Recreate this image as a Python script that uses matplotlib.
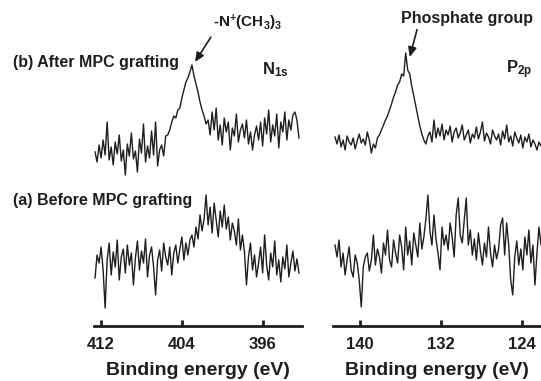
import matplotlib
matplotlib.use("Agg")
import matplotlib.pyplot as plt
import numpy as np

plt.rcParams["font.family"] = ["Liberation Sans", "DejaVu Sans"]
plt.rcParams["font.weight"] = "bold"
plt.rcParams["mathtext.fontset"] = "custom"
plt.rcParams["mathtext.rm"] = "Liberation Sans:bold"
plt.rcParams["mathtext.it"] = "Liberation Sans:bold"
plt.rcParams["mathtext.bf"] = "Liberation Sans:bold"

# N 1s, after MPC grafting (b), arbitrary units
n1s_after = [
    28, 18, 35, 22, 40, 25, 58, 20, 33, 15, 38, 26, 45, 19, 30, 5, 36, 24, 47, 21,
    29, 8, 41, 27, 56, 18, 34, 22, 49, 25, 58, 14, 30, 35, 24, 44,
    45, 50, 58, 64, 62, 70, 72, 82, 90, 98, 102, 108, 115,
    104, 96, 88, 78, 70, 64, 56,
    60, 45, 68, 50, 72, 40, 55, 35, 62, 48, 58, 30, 52, 44, 66, 38, 50, 56, 42, 60,
    36, 48, 30, 45, 54, 40, 58, 34, 62, 46, 70, 38, 55, 44, 66, 32, 58, 48, 68, 40,
    60, 50, 65, 68, 60, 42,
]
# N 1s, before MPC grafting (a)
n1s_before = [
    37, 60, 52, 68, 45, 7, 55, 72, 40, 63, 48, 75, 35, 58, 66, 42, 70, 50, 62, 30,
    57, 74, 45, 64, 52, 76, 38, 60, 68, 48, 20, 55, 65, 44, 72, 58, 50, 68, 40, 62,
    70, 52, 66, 78, 55, 72, 60, 75,
    80, 68, 88, 76, 100, 84, 96, 120, 90, 108, 82, 112, 95, 78, 104, 88, 110, 86, 98, 75,
    92, 84, 70, 96, 65, 80,
    63, 30, 58, 72, 45, 60, 38, 52, 68, 42, 80, 50, 35, 62, 48, 74, 40, 55, 33, 58,
    46, 70, 38, 52, 64, 44, 56, 42,
]
# P 2p, after MPC grafting (b)
p2p_after = [
    43, 36, 45, 33, 40, 30, 44, 38, 35, 42, 31, 39, 46, 37, 41, 35, 48,
    40, 27, 36, 32, 42, 45,
    50, 55, 60, 64, 70, 76, 83, 88, 95, 98, 106, 104, 127, 110, 106, 94, 84, 74, 64, 54,
    46, 40, 36, 44, 48, 38, 60, 42,
    52, 44, 56, 40, 50, 45, 54, 38, 48, 52, 42, 47, 55, 40, 45, 50, 37, 46, 42, 53,
    41, 48, 58, 39, 47, 43, 36, 50, 44, 40, 46, 35, 49, 41, 55, 38, 44, 34, 48, 42,
    37, 45, 32, 43, 38, 46, 33, 40, 36, 30, 38, 34,
]
# P 2p, before MPC grafting (a)
p2p_before = [
    70, 58, 75, 48, 62, 40, 55, 68, 45, 38, 60, 52, 35, 8, 48, 58, 62, 44, 55, 80,
    50, 66, 58, 42, 72, 60, 85, 55, 48, 75, 62,
    52, 80, 68, 45, 88, 60, 74, 50, 82, 70, 58, 92, 66, 78, 96, 120, 84, 70, 100,
    76, 62, 45, 88, 70, 80,
    65, 92, 78, 58, 100, 117, 80, 72, 95, 117, 70, 85, 60, 76, 55, 82, 64, 50, 72, 58,
    88, 62, 48, 70, 56, 66, 90, 97, 60, 92, 70, 35, 20, 58, 74, 50, 66, 45, 78, 60,
    85, 52, 70, 30, 62, 88, 70,
]

n1s_range = (412.6, 392.4)
p2p_range = (142.5, 122.1)
n1s_ticks = [412, 404, 396]
p2p_ticks = [140, 132, 124]
offset = 135  # vertical shift of spectrum (b)

ink = "#1e1e1e"
fig = plt.figure(figsize=(5.41, 3.81), dpi=100)
ax1 = fig.add_axes([0.1738, 0.1444, 0.3844, 0.8556])
ax2 = fig.add_axes([0.6155, 0.1444, 0.3845, 0.8556])

panels = [
    (ax1, n1s_range, n1s_after, n1s_before, n1s_ticks, (412.7, 392.1)),
    (ax2, p2p_range, p2p_after, p2p_before, p2p_ticks, (142.7, 122.1)),
]
for ax, erange, after, before, ticks, xlim in panels:
    e_after = np.linspace(erange[0], erange[1], len(after))
    e_before = np.linspace(erange[0], erange[1], len(before))
    ax.plot(e_after, np.array(after) + offset, color=ink, lw=1.0)
    ax.plot(e_before, before, color=ink, lw=1.0)
    ax.set_xlim(*xlim)
    ax.set_ylim(-11, 315)
    for s in ["top", "left", "right"]:
        ax.spines[s].set_visible(False)
    ax.spines["bottom"].set_linewidth(2)
    ax.spines["bottom"].set_color(ink)
    ax.set_yticks([])
    ax.set_xticks(ticks)
    ax.tick_params(axis="x", direction="in", length=4, width=2, color=ink,
                   labelsize=12, labelcolor=ink, pad=8)
    for lab in ax.get_xticklabels():
        lab.set_fontweight("bold")
    ax.set_xlabel("Binding energy (eV)", fontsize=14, fontweight="bold",
                  color=ink, labelpad=7)

# peak annotations
i1 = int(np.argmax(n1s_after))
e1 = np.linspace(n1s_range[0], n1s_range[1], len(n1s_after))[i1]
ax1.annotate("-N$^{+}$(CH$_{3}$)$_{3}$", xy=(e1 - 0.3, n1s_after[i1] + offset + 3),
             xytext=(248 / 541, 1 - 23 / 381), textcoords="figure fraction",
             ha="center", va="center", fontsize=11, fontweight="bold", color=ink,
             arrowprops=dict(arrowstyle="-|>,head_length=0.5,head_width=0.22",
                             color=ink, lw=1.2, relpos=(0.0, 0.0),
                             shrinkA=1, shrinkB=0))
i2 = int(np.argmax(p2p_after))
e2 = np.linspace(p2p_range[0], p2p_range[1], len(p2p_after))[i2]
ax2.annotate("Phosphate group", xy=(e2 - 0.4, p2p_after[i2] + offset - 4),
             xytext=(467 / 541, 1 - 18 / 381), textcoords="figure fraction",
             ha="center", va="center", fontsize=11.5, fontweight="bold", color=ink,
             arrowprops=dict(arrowstyle="-|>,head_length=0.5,head_width=0.22",
                             color=ink, lw=1.2, relpos=(0.13, 0.0),
                             shrinkA=1, shrinkB=0))

fig.text(13 / 541, 1 - 62 / 381, "(b) After MPC grafting", ha="left", va="center",
         fontsize=11.5, fontweight="bold", color=ink)
fig.text(13 / 541, 1 - 200 / 381, "(a) Before MPC grafting", ha="left", va="center",
         fontsize=11.5, fontweight="bold", color=ink)
fig.text(275 / 541, 1 - 70 / 381, r"N$_{\mathrm{1s}}$", ha="center", va="center",
         fontsize=12, fontweight="bold", color=ink)
fig.text(519 / 541, 1 - 70 / 381, r"P$_{\mathrm{2p}}$", ha="center", va="center",
         fontsize=12, fontweight="bold", color=ink)

fig.savefig("out.png", dpi=100)
